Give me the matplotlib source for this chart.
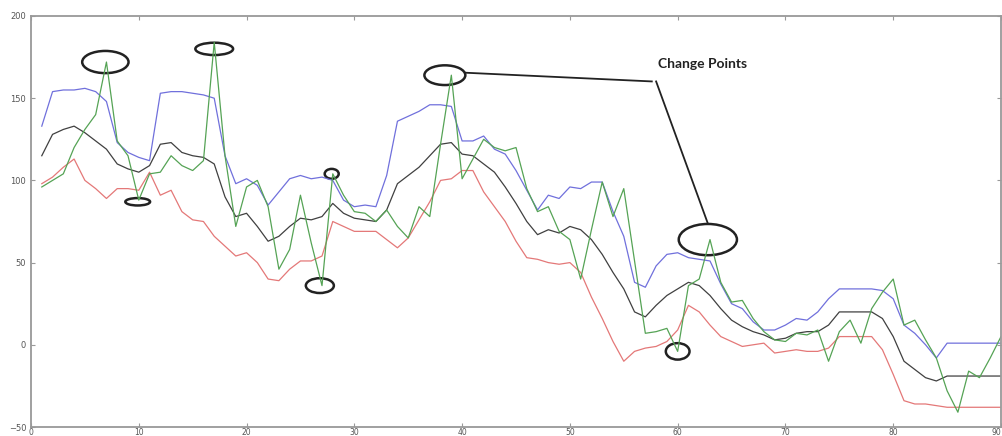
# -*- coding: utf-8 -*-

import matplotlib
matplotlib.use('Agg')
import matplotlib.pyplot as plt
from matplotlib.patches import Ellipse

# time index
days = list(range(1, 91))

# observed series (green)
observed = [96, 100, 104, 120, 131, 140, 172, 124, 115, 88,
            104, 105, 115, 109, 106, 112, 184, 115, 72, 96,
            100, 84, 46, 58, 91, 62, 36, 104, 91, 81,
            80, 75, 82, 72, 65, 84, 78, 122, 164, 101,
            113, 125, 120, 118, 120, 95, 81, 84, 69, 64,
            40, 70, 99, 78, 95, 51, 7, 8, 10, -4,
            36, 40, 64, 38, 26, 27, 16, 8, 3, 2,
            7, 6, 9, -10, 8, 15, 1, 22, 32, 40,
            12, 15, 3, -8, -28, -41, -16, -20, -8, 5]

# upper band (blue)
upper = [133, 154, 155, 155, 156, 154, 148, 123, 117, 114,
         112, 153, 154, 154, 153, 152, 150, 115, 98, 101,
         97, 85, 93, 101, 103, 101, 102, 100, 88, 84,
         85, 84, 103, 136, 139, 142, 146, 146, 145, 124,
         124, 127, 119, 116, 106, 94, 82, 91, 89, 96,
         95, 99, 99, 81, 66, 38, 35, 48, 55, 56,
         53, 52, 51, 37, 25, 22, 14, 9, 9, 12,
         16, 15, 20, 28, 34, 34, 34, 34, 33, 28,
         12, 7, 0, -8, 1, 1, 1, 1, 1, 1]

# moving mean (black)
mean = [115, 128, 131, 133, 129, 124, 119, 110, 107, 105,
        109, 122, 123, 117, 115, 114, 110, 90, 78, 80,
        72, 63, 66, 72, 77, 76, 78, 86, 80, 77,
        76, 75, 82, 98, 103, 108, 115, 122, 123, 116,
        115, 110, 105, 96, 86, 75, 67, 70, 68, 72,
        70, 64, 55, 44, 34, 20, 17, 24, 30, 34,
        38, 36, 30, 22, 15, 11, 8, 6, 3, 4,
        7, 8, 8, 12, 20, 20, 20, 20, 16, 5,
        -10, -15, -20, -22, -19, -19, -19, -19, -19, -19]

# lower band (red)
lower = [98, 102, 108, 113, 100, 95, 89, 95, 95, 94,
         105, 91, 94, 81, 76, 75, 66, 60, 54, 56,
         50, 40, 39, 46, 51, 51, 54, 75, 72, 69,
         69, 69, 64, 59, 65, 76, 87, 100, 101, 106,
         106, 93, 84, 75, 63, 53, 52, 50, 49, 50,
         44, 29, 16, 2, -10, -4, -2, -1, 2, 9,
         24, 20, 12, 5, 2, -1, 0, 1, -5, -4,
         -3, -4, -4, -2, 5, 5, 5, 5, -3, -18,
         -34, -36, -36, -37, -38, -38, -38, -38, -38, -38]

# circled change points: (x, y, width, height)
circles = [(6.9, 172, 4.3, 13.5), (17.0, 180, 3.5, 7.5), (9.9, 87, 2.3, 4.5),
           (27.9, 104, 1.3, 6), (26.8, 36, 2.6, 9), (38.4, 164, 3.8, 12),
           (62.8, 64, 5.4, 19), (60.0, -4, 2.2, 10)]

if __name__ == '__main__':
    fig = plt.figure(figsize=(10.03, 4.36), dpi=100)
    ax = fig.add_axes([31 / 1003, 9 / 436, 970 / 1003, 411 / 436])

    ax.plot(days, upper, color='#7070dc', lw=0.9)
    ax.plot(days, lower, color='#e47878', lw=0.9)
    ax.plot(days, mean, color='#404040', lw=0.9)
    ax.plot(days, observed, color='#55a355', lw=0.9)

    for cx, cy, w, h in circles:
        ax.add_patch(Ellipse((cx, cy), w, h, fill=False, ec='#222222', lw=1.8))

    # pointer lines to the label
    ax.plot([40.3, 57.6], [165.5, 160.2], color='#222222', lw=1.3)
    ax.plot([58.0, 62.8], [160.2, 73.8], color='#222222', lw=1.3)
    ax.text(58.2, 171, 'Change Points', fontsize=10, fontweight='bold',
            family='Lato', color='#222222', va='center')

    ax.set_xlim(0, 90)
    ax.set_ylim(-50, 200)
    ax.set_xticks(range(0, 91, 10))
    ax.set_yticks(range(-50, 201, 50))
    ax.tick_params(direction='in', top=True, right=True, labelsize=6,
                   labelcolor='#555555', color='#999999', length=3)
    ax.tick_params(axis='x', pad=0.5, labelsize=5.5)
    # last label sits on the figure edge, keep it inside
    ax.get_xticklabels()[-1].set_ha('right')
    for s in ax.spines.values():
        s.set_color('#999999')
        s.set_linewidth(1.3)

    fig.savefig('out.png', dpi=100)
